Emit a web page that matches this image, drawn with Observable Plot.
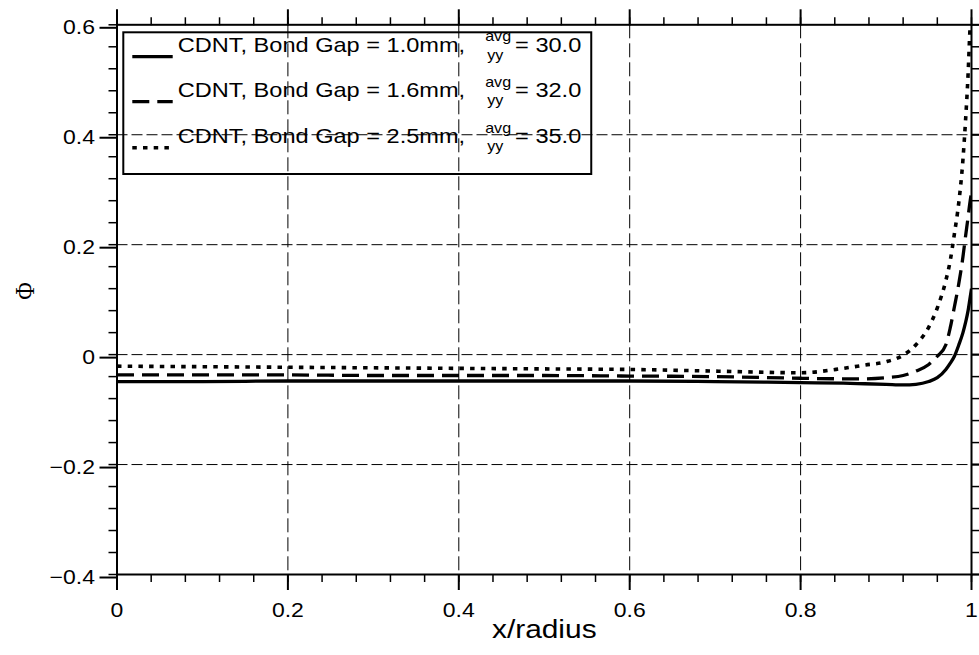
<!DOCTYPE html>
<html>
<head>
<meta charset="utf-8">
<script src="https://cdn.jsdelivr.net/npm/d3@7"></script>
<script src="https://cdn.jsdelivr.net/npm/@observablehq/plot@0.6"></script>
<style>
  html, body { margin: 0; padding: 0; background: #fff; }
  svg { display: block; }
</style>
</head>
<body>
<div id="chart"></div>
<script>
// ---------- data ----------
const xs = [0, 0.1, 0.2, 0.3, 0.4, 0.5, 0.6, 0.7, 0.8, 0.85, 0.875, 0.9, 0.92, 0.935, 0.95, 0.96, 0.97, 0.975, 0.98, 0.985, 0.99, 0.993, 0.996, 0.998, 1.0];
const phiGap10 = [-0.049, -0.049, -0.048, -0.048, -0.048, -0.048, -0.048, -0.049, -0.051, -0.052, -0.053, -0.054, -0.055, -0.054, -0.049, -0.042, -0.027, -0.016, -0.003, 0.017, 0.040, 0.058, 0.080, 0.100, 0.120];
const phiGap16 = [-0.037, -0.037, -0.037, -0.038, -0.038, -0.038, -0.039, -0.040, -0.043, -0.044, -0.044, -0.042, -0.038, -0.030, -0.018, -0.003, 0.018, 0.048, 0.087, 0.128, 0.178, 0.215, 0.250, 0.275, 0.295];
const phiGap25 = [-0.021, -0.022, -0.023, -0.024, -0.025, -0.026, -0.027, -0.030, -0.033, -0.025, -0.019, -0.013, -0.001, 0.018, 0.050, 0.085, 0.135, 0.170, 0.220, 0.275, 0.355, 0.425, 0.510, 0.585, 0.640];

const seriesNames = ["CDNT, Bond Gap = 1.0mm,", "CDNT, Bond Gap = 1.6mm,", "CDNT, Bond Gap = 2.5mm,"];
const avgValues = ["30.0", "32.0", "35.0"];
const supText = "avg";
const subText = "yy";

const xMajor = [0, 0.2, 0.4, 0.6, 0.8, 1];
const xTickLabels = ["0", "0.2", "0.4", "0.6", "0.8", "1"];
const yMajor = [-0.4, -0.2, 0, 0.2, 0.4, 0.6];
const yTickLabels = ["\u22120.4", "\u22120.2", "0", "0.2", "0.4", "0.6"];
const xGrid = [0.2, 0.4, 0.6, 0.8];
const yGrid = [-0.2, 0, 0.2, 0.4];
const xMinor = d3.range(0, 1.0001, 0.04);
const yMinor = d3.range(-0.4, 0.6001, 0.04);
const xLabel = "x/radius";
const yLabel = "\u03A6";

// ---------- styles ----------
const dashes = ["none", "17,8", "4.5,6.2"];
const widths = [3.3, 3.3, 3.6];
const S = 1.15; // horizontal text stretch seen in the reference

const table = [];
[phiGap10, phiGap16, phiGap25].forEach((ys, k) => {
  xs.forEach((x, i) => table.push({series: k, x, phi: ys[i]}));
});

const fmt = (ticks, labels) => d => {
  const i = ticks.findIndex(t => Math.abs(t - d) < 1e-9);
  return i >= 0 ? labels[i] : "";
};
const blank = () => "";

const chart = Plot.plot({
  width: 979,
  height: 655,
  marginLeft: 116.5,
  marginRight: 8,
  marginTop: 24.3,
  marginBottom: 81,
  style: {fontFamily: "'Liberation Sans', Arial, sans-serif", fontSize: "20px", background: "#fff", color: "#000"},
  x: {domain: [0, 1], label: null},
  y: {domain: [-0.4, 0.6], label: null},
  marks: [
    Plot.gridX(xGrid, {stroke: "#000", strokeOpacity: 1, strokeWidth: 1, strokeDasharray: "14,5"}),
    Plot.gridY(yGrid, {stroke: "#000", strokeOpacity: 1, strokeWidth: 1, strokeDasharray: "11,4"}),
    ...[0, 1, 2].map(k => Plot.line(table.filter(d => d.series === k), {
      x: "x", y: "phi", stroke: "#000", strokeWidth: widths[k],
      strokeDasharray: dashes[k], strokeLinecap: "butt", strokeLinejoin: "round",
      curve: "monotone-x", clip: true
    })),
    Plot.frame({stroke: "#000", strokeWidth: 2}),
    // bottom axis
    Plot.axisX(xMinor, {anchor: "bottom", tickSize: 8, tickFormat: blank, strokeWidth: 1.5, label: null}),
    Plot.axisX(xMajor, {anchor: "bottom", tickSize: 16, tickPadding: 12, tickFormat: fmt(xMajor, xTickLabels), strokeWidth: 2, fontSize: 20, label: null}),
    // top axis
    Plot.axisX(xMinor, {anchor: "top", tickSize: 8, tickFormat: blank, strokeWidth: 1.5, label: null}),
    Plot.axisX(xMajor, {anchor: "top", tickSize: 16, tickFormat: blank, strokeWidth: 2, label: null}),
    // left axis
    Plot.axisY(yMinor, {anchor: "left", tickSize: 8, tickFormat: blank, strokeWidth: 1.5, label: null}),
    Plot.axisY(yMajor, {anchor: "left", tickSize: 17, tickPadding: 5, dy: 3, tickFormat: fmt(yMajor, yTickLabels), strokeWidth: 2, fontSize: 20, label: null}),
    // right axis
    Plot.axisY(yMinor, {anchor: "right", tickSize: 8, tickFormat: blank, strokeWidth: 1.5, label: null}),
    Plot.axisY(yMajor, {anchor: "right", tickSize: 16, tickFormat: blank, strokeWidth: 2, label: null}),
    // axis titles
    Plot.text([xLabel], {text: d => d, frameAnchor: "bottom", dy: 63, fontSize: 26}),
    Plot.text([yLabel], {text: d => d, frameAnchor: "left", dx: -91.5, rotate: -90, fontSize: 24, fontFamily: "'Liberation Serif', 'Times New Roman', serif"})
  ]
});

document.getElementById("chart").appendChild(chart);

// tick labels at the reference's size
d3.select(chart).selectAll('g[aria-label$="tick label"]').attr("font-size", 20)
  .selectAll("text").attr("font-size", 20);

// stretch all text horizontally around its anchor (the reference is wide-set)
d3.select(chart).selectAll("text").each(function () {
  const t = this.getAttribute("transform");
  if (t && t.startsWith("translate(")) {
    const j = t.indexOf(")") + 1;
    this.setAttribute("transform", t.slice(0, j) + ` scale(${S},1)` + t.slice(j));
  }
});

// ---------- legend (inside the plot, no fill) ----------
const lg = d3.select(chart).append("g")
  .attr("font-family", "'Liberation Sans', Arial, sans-serif")
  .attr("text-anchor", "start")
  .attr("fill", "#000");
const rowBase = [51.7, 97.4, 143.1];
const sampleY = [56.7, 101.7, 147.7];
const textX = 177.7;
let maxRight = 0;
seriesNames.forEach((name, i) => {
  lg.append("line")
    .attr("x1", 132.3).attr("x2", 172.7).attr("y1", sampleY[i]).attr("y2", sampleY[i])
    .attr("stroke", "#000").attr("stroke-width", widths[i])
    .attr("stroke-dasharray", dashes[i]).attr("stroke-linecap", "butt");
  const t1 = lg.append("text").attr("font-size", 20.5)
    .attr("transform", `translate(${textX},${rowBase[i]}) scale(${S},1)`).text(name);
  const w1 = t1.node().getComputedTextLength() * S;
  const ax = textX + w1 + 20;
  const ts = lg.append("text").attr("font-size", 14)
    .attr("transform", `translate(${ax},${rowBase[i] - 10.5}) scale(${S},1)`).text(supText);
  const tb = lg.append("text").attr("font-size", 14)
    .attr("transform", `translate(${ax + 2},${rowBase[i] + 8}) scale(${S},1)`).text(subText);
  const aw = Math.max(ts.node().getComputedTextLength(), tb.node().getComputedTextLength() + 2 / S) * S;
  const bx = ax + aw + 4;
  const t2 = lg.append("text").attr("font-size", 20.5)
    .attr("transform", `translate(${bx},${rowBase[i]}) scale(${S},1)`).text("= " + avgValues[i]);
  maxRight = Math.max(maxRight, bx + t2.node().getComputedTextLength() * S);
});
lg.insert("rect", ":first-child")
  .attr("x", 123.3).attr("y", 32.3)
  .attr("width", maxRight + 10 - 123.3).attr("height", 174 - 32.3)
  .attr("fill", "none").attr("stroke", "#000").attr("stroke-width", 2);
</script>
</body>
</html>
